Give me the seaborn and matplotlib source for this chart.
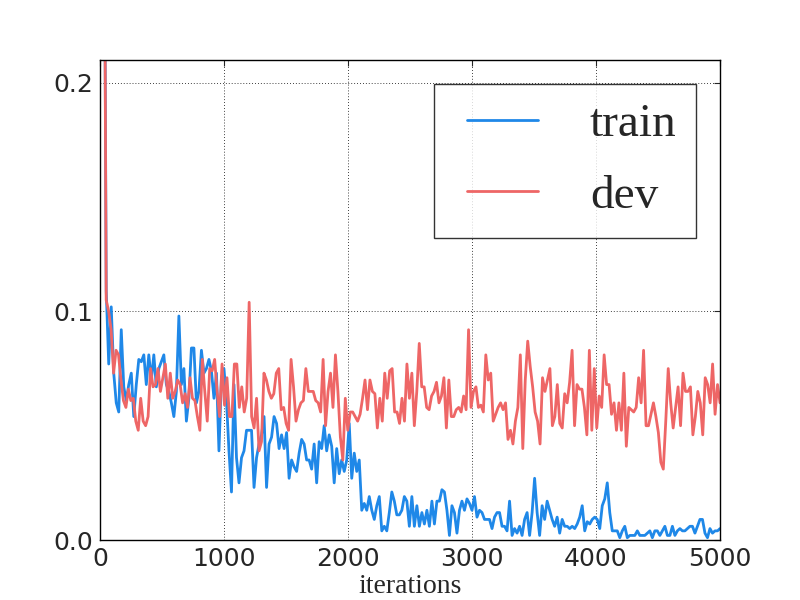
import numpy as np
import matplotlib
matplotlib.use("Agg")
import matplotlib.pyplot as plt
from matplotlib.lines import Line2D
from matplotlib.legend_handler import HandlerLine2D
import seaborn as sns

# loss values (roughly one point every 20 iterations)
train_loss = [
    0.35, 0.109, 0.077, 0.102, 0.073, 0.060, 0.056, 0.092, 0.067, 0.061, 0.068, 0.073, 0.054,
    0.068, 0.079, 0.078, 0.081, 0.068, 0.081, 0.070, 0.081, 0.067, 0.075, 0.078,
    0.081, 0.068, 0.065, 0.060, 0.054, 0.065, 0.098, 0.068, 0.075, 0.052, 0.062, 0.084,
    0.084, 0.060, 0.065, 0.083, 0.073, 0.075,
    0.079, 0.074, 0.062, 0.073, 0.039, 0.071, 0.075, 0.061, 0.039, 0.021, 0.068, 0.036,
    0.025, 0.036, 0.039, 0.048, 0.048, 0.048, 0.023, 0.036, 0.042, 0.046, 0.054, 0.023,
    0.042, 0.045, 0.054, 0.051, 0.040, 0.046, 0.040, 0.047, 0.027, 0.035, 0.032, 0.030,
    0.038, 0.044, 0.042, 0.035, 0.035,
    0.031, 0.042, 0.025, 0.043, 0.040, 0.050, 0.039, 0.046, 0.041, 0.025, 0.040, 0.029,
    0.035, 0.030, 0.035, 0.051, 0.027, 0.038, 0.030, 0.035,
    0.013, 0.016, 0.013, 0.019, 0.013, 0.009, 0.015, 0.019, 0.004, 0.006,
    0.004, 0.012, 0.021, 0.017, 0.011, 0.011, 0.013, 0.019, 0.017, 0.006,
    0.019, 0.006, 0.015, 0.006, 0.012, 0.007, 0.013, 0.006, 0.017, 0.007,
    0.017, 0.017, 0.022, 0.021, 0.013, 0.002, 0.015, 0.012, 0.003, 0.013,
    0.017, 0.013, 0.018, 0.016, 0.013, 0.019, 0.010, 0.013, 0.012, 0.009,
    0.009, 0.009, 0.005, 0.010, 0.012, 0.012,
    0.006, 0.006, 0.004, 0.017, 0.002, 0.005, 0.003, 0.006, 0.002, 0.009,
    0.012, 0.002, 0.012, 0.027, 0.012, 0.002, 0.015, 0.009, 0.017, 0.013,
    0.009, 0.006, 0.010, 0.003, 0.009, 0.006, 0.006, 0.005, 0.006, 0.005,
    0.007, 0.010, 0.015, 0.004, 0.008, 0.007, 0.009, 0.010, 0.009, 0.005,
    0.015, 0.018, 0.025, 0.012, 0.004, 0.004, 0.004, 0.001, 0.004, 0.006,
    0.001, 0.002, 0.002, 0.002, 0.004, 0.002, 0.002, 0.002, 0.003, 0.004,
    0.001, 0.004, 0.004, 0.002, 0.004, 0.006, 0.002, 0.002, 0.006, 0.002,
    0.004, 0.005, 0.004, 0.004, 0.005, 0.006, 0.006, 0.003, 0.006, 0.009,
    0.009, 0.003, 0.001, 0.005, 0.003, 0.004, 0.004, 0.005,
]

dev_loss = [
    0.35, 0.105, 0.100, 0.092, 0.073, 0.083, 0.081, 0.070, 0.061, 0.058, 0.066, 0.061,
    0.062, 0.052, 0.048, 0.062, 0.052, 0.050, 0.054, 0.075, 0.067, 0.068, 0.075, 0.065,
    0.071, 0.077, 0.062, 0.073, 0.062, 0.065, 0.070, 0.068, 0.060, 0.064, 0.058, 0.071,
    0.062, 0.061, 0.054, 0.048, 0.079, 0.065, 0.052,
    0.075, 0.074, 0.079, 0.065, 0.054, 0.077, 0.059, 0.071, 0.054, 0.054, 0.077, 0.077,
    0.058, 0.067, 0.056, 0.062, 0.104, 0.054, 0.049, 0.062, 0.039, 0.043, 0.073, 0.070,
    0.065, 0.062, 0.064, 0.073, 0.075, 0.057, 0.058, 0.051, 0.048, 0.079, 0.067, 0.052,
    0.057, 0.060, 0.061, 0.075, 0.065, 0.065,
    0.065, 0.061, 0.060, 0.056, 0.079, 0.050, 0.065, 0.073, 0.058, 0.081, 0.065, 0.045,
    0.035, 0.062, 0.048, 0.056, 0.056, 0.054, 0.052, 0.055, 0.062, 0.070, 0.057, 0.070,
    0.065, 0.064, 0.049, 0.062, 0.052, 0.073, 0.062, 0.074, 0.075, 0.056, 0.056, 0.051,
    0.062, 0.052, 0.077, 0.062, 0.073, 0.050,
    0.065, 0.086, 0.067, 0.067, 0.058, 0.057, 0.063, 0.065, 0.069, 0.060, 0.063, 0.071,
    0.049, 0.070, 0.054, 0.054, 0.057, 0.058, 0.056, 0.063, 0.057, 0.092, 0.058, 0.065,
    0.067, 0.058, 0.059, 0.056, 0.081, 0.070, 0.073, 0.052, 0.055,
    0.058, 0.060, 0.057, 0.060, 0.044, 0.048, 0.042, 0.052, 0.058, 0.081, 0.040, 0.070,
    0.087, 0.076, 0.067, 0.056, 0.052, 0.042, 0.071, 0.065, 0.070, 0.075, 0.050, 0.054,
    0.068, 0.051, 0.049, 0.064, 0.060, 0.069, 0.083, 0.050, 0.068, 0.066, 0.066, 0.058,
    0.046, 0.083, 0.048, 0.075, 0.049, 0.063, 0.058, 0.081, 0.068, 0.068, 0.055, 0.060,
    0.048, 0.060, 0.048, 0.073, 0.041, 0.058, 0.057, 0.056, 0.058, 0.071, 0.060, 0.083,
    0.050, 0.050, 0.055, 0.060, 0.054, 0.047, 0.034, 0.031, 0.052, 0.075, 0.060, 0.049,
    0.058, 0.067, 0.050, 0.073, 0.065, 0.065, 0.067, 0.046, 0.054, 0.065, 0.060, 0.046,
    0.071, 0.068, 0.060, 0.077, 0.055, 0.068, 0.060,
]

# iteration grid: evenly spaced from the first logged step to 5000
train_iters = np.linspace(30, 5000, len(train_loss))
dev_iters = np.linspace(30, 5000, len(dev_loss))

sns.set_style("white")
plt.rcParams.update({
    "xtick.direction": "in", "ytick.direction": "in",
    "xtick.top": True, "ytick.right": True,
    "xtick.major.size": 4, "ytick.major.size": 4,
    "axes.edgecolor": "black", "axes.linewidth": 1.0,
})

fig, ax = plt.subplots(figsize=(8, 6), dpi=100)
fig.subplots_adjust(left=0.125, right=0.9, bottom=0.1, top=0.9)

sns.lineplot(x=train_iters, y=train_loss, color="#1f88e8", linewidth=2, label="train", ax=ax)
sns.lineplot(x=dev_iters, y=dev_loss, color="#ee6666", linewidth=2, label="dev", ax=ax)

ax.set_xlim(0, 5000)
ax.set_ylim(0, 0.21)
ax.set_xticks([0, 1000, 2000, 3000, 4000, 5000])
ax.set_yticks([0.0, 0.1, 0.2])
ax.set_yticklabels(["0.0", "0.1", "0.2"])
ax.tick_params(labelsize=18, pad=5)
ax.grid(True, color="black", linestyle=(0, (1, 2.5)), linewidth=0.6)
ax.set_xlabel("iterations", family="Liberation Serif", fontsize=20, labelpad=2)
ax.set_ylabel("")

# legend: big serif labels, short handles set in from the box edge
leg = ax.legend(loc="upper right", prop={"family": "Liberation Serif", "size": 34},
                handlelength=1.78, handletextpad=1.1, borderpad=0.42, labelspacing=0.6,
                fancybox=False, frameon=True,
                handler_map={Line2D: HandlerLine2D(xpad=0.28)})
leg.get_frame().set_edgecolor("black")
leg.get_frame().set_linewidth(1.0)

fig.savefig("out.png", dpi=100, facecolor="white")
